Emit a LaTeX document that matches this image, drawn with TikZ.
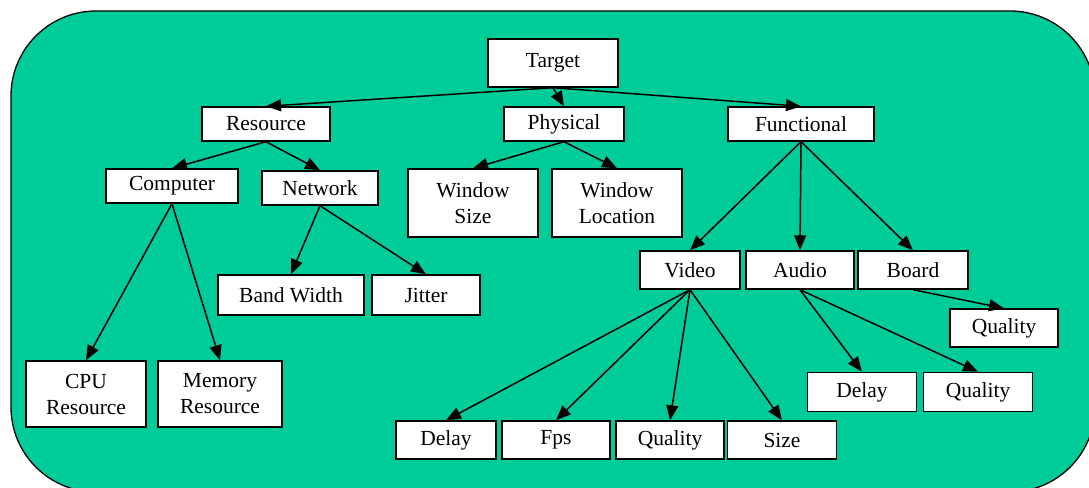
\documentclass[tikz,border=0pt]{standalone}
\usepackage{fontspec}
\setmainfont{Liberation Serif}
\usetikzlibrary{arrows.meta}
\definecolor{bg}{HTML}{00CC99}
\begin{document}
\begin{tikzpicture}[x=1pt,y=-1pt,
  box/.style={draw, line width=1.4pt, fill=white, inner sep=0pt, align=center,
              font=\fontsize{21.5}{26}\selectfont},
  arr/.style={line width=1.5pt, -{Triangle[length=15pt,width=12pt]}}]
\useasboundingbox (0,0) rectangle (1089,487);
\clip (0,0) rectangle (1089,487);
\draw[fill=bg, line width=1.3pt, rounded corners=85pt] (11,11) rectangle (1095,492);

\node[box, minimum width=130pt, minimum height=48pt] (target) at (553,63) {Target};
\node[box, minimum width=128pt, minimum height=34pt] (resource) at (266,124) {Resource};
\node[box, minimum width=120pt, minimum height=34pt] (physical) at (564,124) {Physical};
\node[box, minimum width=146pt, minimum height=34pt] (functional) at (801,124) {Functional};

\node[box, minimum width=132pt, minimum height=34pt] (computer) at (172,186) {Computer};
\node[box, minimum width=116pt, minimum height=34pt] (network) at (320,188) {Network};
\node[box, minimum width=130pt, minimum height=68pt] (wsize) at (473,203) {Window\\Size};
\node[box, minimum width=130pt, minimum height=68pt] (wloc) at (617,203) {Window\\Location};

\node[box, minimum width=146pt, minimum height=40pt] (band) at (291,295) {Band Width};
\node[box, minimum width=108pt, minimum height=40pt] (jitter) at (426,295) {Jitter};
\node[box, minimum width=120pt, minimum height=66pt] (cpu) at (86,394) {CPU\\Resource};
\node[box, minimum width=124pt, minimum height=66pt] (memory) at (220,394) {Memory\\Resource};

\node[box, minimum width=100pt, minimum height=38pt] (video) at (690,270) {Video};
\node[box, minimum width=108pt, minimum height=38pt] (audio) at (800,270) {Audio};
\node[box, minimum width=110pt, minimum height=38pt] (board) at (913,270) {Board};

\node[box, minimum width=108pt, minimum height=38pt] (bquality) at (1004,328) {Quality};
\node[box, minimum width=109pt, minimum height=39pt] (adelay) at (862,392) {Delay};
\node[box, minimum width=109pt, minimum height=39pt] (aquality) at (978,392) {Quality};

\node[box, minimum width=100pt, minimum height=38pt] (vdelay) at (446,440) {Delay};
\node[box, minimum width=108pt, minimum height=38pt] (fps) at (556,440) {Fps};
\node[box, minimum width=108pt, minimum height=38pt] (vquality) at (670,440) {Quality};
\node[box, minimum width=109pt, minimum height=38pt] (size) at (782,440) {Size};

\draw[arr] (target.south) -- (resource.north);
\draw[arr] (target.south) -- (physical.north);
\draw[arr] (target.south) -- (functional.north);
\draw[arr] (resource.south) -- (computer.north);
\draw[arr] (resource.south) -- (network.north);
\draw[arr] (physical.south) -- (wsize.north);
\draw[arr] (physical.south) -- (wloc.north);
\draw[arr] (computer.south) -- (cpu.north);
\draw[arr] (computer.south) -- (memory.north);
\draw[arr] (network.south) -- (band.north);
\draw[arr] (network.south) -- (jitter.north);
\draw[arr] (functional.south) -- (video.north);
\draw[arr] (functional.south) -- (audio.north);
\draw[arr] (functional.south) -- (board.north);
\draw[arr] (video.south) -- (vdelay.north);
\draw[arr] (video.south) -- (fps.north);
\draw[arr] (video.south) -- (vquality.north);
\draw[arr] (video.south) -- (size.north);
\draw[arr] (audio.south) -- (adelay.north);
\draw[arr] (audio.south) -- (aquality.north);
\draw[arr] (board.south) -- (bquality.north);
\end{tikzpicture}
\end{document}
